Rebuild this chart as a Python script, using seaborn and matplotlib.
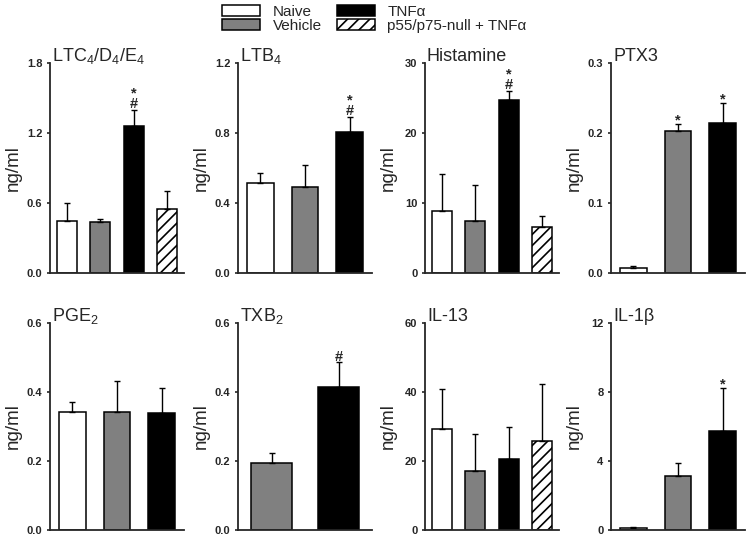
import numpy as np
import pandas as pd
import seaborn as sns
import matplotlib
matplotlib.use('Agg')
from matplotlib import pyplot as plt
from matplotlib.patches import Patch

GROUPS = ['Naive', 'Vehicle', 'TNFα', 'p55/p75-null + TNFα']
FILLS = ['white', '#808080', 'black', 'white']
HATCHES = ['', '', '', '///']

# one set per panel: groups shown, mean, upper SEM, significance marks (top to bottom)
ltc_groups = [0, 1, 2, 3]
ltc_mean = [0.447, 0.436, 1.261, 0.553]
ltc_err = [0.152, 0.028, 0.143, 0.152]
ltc_marks = ['', '', '*\n#', '']

ltb_groups = [0, 1, 2]
ltb_mean = [0.514, 0.495, 0.809]
ltb_err = [0.061, 0.124, 0.084]
ltb_marks = ['', '', '*\n#']

his_groups = [0, 1, 2, 3]
his_mean = [8.9, 7.5, 24.7, 6.65]
his_err = [5.3, 5.05, 1.4, 1.45]
his_marks = ['', '', '*\n#', '']

ptx_groups = [0, 1, 2]
ptx_mean = [0.0075, 0.203, 0.215]
ptx_err = [0.002, 0.010, 0.029]
ptx_marks = ['', '*', '*']

pge_groups = [0, 1, 2]
pge_mean = [0.342, 0.342, 0.340]
pge_err = [0.029, 0.089, 0.071]
pge_marks = ['', '', '']

txb_groups = [1, 2]
txb_mean = [0.193, 0.413]
txb_err = [0.029, 0.073]
txb_marks = ['', '#']

il13_groups = [0, 1, 2, 3]
il13_mean = [29.1, 17.2, 20.6, 25.8]
il13_err = [11.7, 10.5, 9.3, 16.4]
il13_marks = ['', '', '', '']

il1b_groups = [0, 1, 2]
il1b_mean = [0.08, 3.1, 5.74]
il1b_err = [0.07, 0.79, 2.49]
il1b_marks = ['', '', '*']

PANELS = [
    ('LTC$_4$/D$_4$/E$_4$', ltc_groups, ltc_mean, ltc_err, ltc_marks, ['0.0', '0.6', '1.2', '1.8']),
    ('LTB$_4$', ltb_groups, ltb_mean, ltb_err, ltb_marks, ['0.0', '0.4', '0.8', '1.2']),
    ('Histamine', his_groups, his_mean, his_err, his_marks, ['0', '10', '20', '30']),
    ('PTX3', ptx_groups, ptx_mean, ptx_err, ptx_marks, ['0.0', '0.1', '0.2', '0.3']),
    ('PGE$_2$', pge_groups, pge_mean, pge_err, pge_marks, ['0.0', '0.2', '0.4', '0.6']),
    ('TXB$_2$', txb_groups, txb_mean, txb_err, txb_marks, ['0.0', '0.2', '0.4', '0.6']),
    ('IL-13', il13_groups, il13_mean, il13_err, il13_marks, ['0', '20', '40', '60']),
    ('IL-1β', il1b_groups, il1b_mean, il1b_err, il1b_marks, ['0', '4', '8', '12']),
]

sns.set_style('ticks')
plt.rcParams['font.family'] = ['Liberation Sans', 'DejaVu Sans']
plt.rcParams['mathtext.fontset'] = 'custom'
plt.rcParams['mathtext.rm'] = 'Liberation Sans'
plt.rcParams['mathtext.it'] = 'Liberation Sans'
plt.rcParams['hatch.linewidth'] = 1.2

fig = plt.figure(figsize=(7.49, 5.36), dpi=100)
lefts = [0.0668, 0.3178, 0.5674, 0.8158]
rows = [(0.4907, 0.391), (0.0115, 0.386)]
W = 0.179

for idx, (title, grp, mean, err, marks, ticks) in enumerate(PANELS):
    bot, hgt = rows[idx // 4]
    ax = fig.add_axes([lefts[idx % 4], bot, W, hgt])
    names = [GROUPS[g] for g in grp]
    df = pd.DataFrame({'group': names, 'value': mean})
    pal = {GROUPS[g]: FILLS[g] for g in grp}
    sns.barplot(data=df, x='group', y='value', hue='group', order=names, hue_order=names,
                palette=pal, width=0.6, edgecolor='black', linewidth=1.1, errorbar=None,
                saturation=1, legend=False, ax=ax)
    for p in ax.patches:
        i = int(round(p.get_x() + p.get_width() / 2))
        p.set_hatch(HATCHES[grp[i]])
    xs = np.arange(len(grp))
    ax.errorbar(xs, mean, yerr=[np.zeros(len(grp)), err], fmt='none', ecolor='black',
                elinewidth=1.0, capsize=2.5, capthick=1.0, zorder=1)
    for i, m in enumerate(marks):
        if not m:
            continue
        dy = -2.5 if m == '*' else -1.0
        ax.annotate(m, (i, mean[i] + err[i]), xytext=(0, dy), textcoords='offset points',
                    ha='center', va='bottom', fontsize=10.5, fontweight='bold',
                    linespacing=0.68)
    vals = [float(t) for t in ticks]
    ax.set_xlim(-0.5, len(grp) - 0.5)
    ax.set_ylim(0, vals[-1])
    ax.set_yticks(vals)
    ax.set_yticklabels(ticks, fontsize=8, fontweight='bold')
    ax.set_xticks([])
    ax.set_xlabel('')
    ax.set_ylabel('ng/ml', fontsize=13.5)
    ax.yaxis.set_label_coords(-0.21, 0.5)
    ax.tick_params(axis='y', length=2, width=1.2, direction='out', pad=3.5)
    ax.text(0.015, 1.01, title, transform=ax.transAxes, ha='left', va='baseline', fontsize=13)
    sns.despine(ax=ax)
    for sp in ['left', 'bottom']:
        ax.spines[sp].set_linewidth(1.3)
    ax.set_facecolor('none')

handles = [Patch(facecolor=FILLS[i], edgecolor='black', hatch=HATCHES[i], linewidth=1.1)
           for i in range(4)]
fig.legend(handles, GROUPS, ncol=2, loc='upper center', bbox_to_anchor=(0.5, 1.005),
           frameon=False, fontsize=11, handlelength=2.5, handleheight=0.7,
           handletextpad=0.8, columnspacing=1.0, labelspacing=0.0, borderpad=0.0)

fig.savefig('out.png', dpi=100)
